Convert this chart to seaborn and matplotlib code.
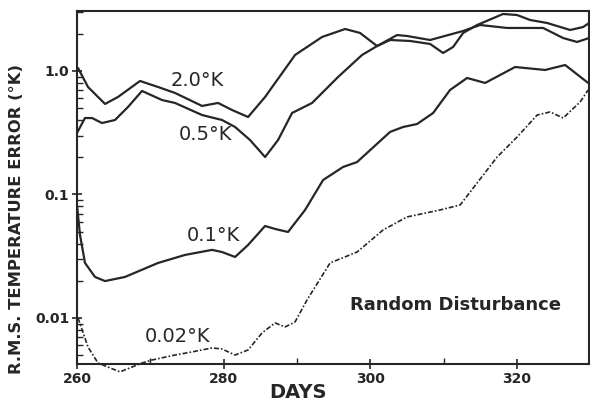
import numpy as np
import pandas as pd
import matplotlib
matplotlib.use("Agg")
import matplotlib.pyplot as plt
from matplotlib.ticker import FixedLocator, MultipleLocator, LogLocator, NullFormatter, FixedFormatter
import seaborn as sns

# ---- data ----
days_20 = [260.14, 261.50, 263.82, 265.59, 268.59, 271.05, 273.36, 277.05, 279.23, 281.14,
           283.32, 285.64, 289.73, 293.41, 296.55, 298.59, 300.91, 302.68, 305.41, 308.14,
           309.91, 311.27, 312.64, 314.55, 318.09, 320.00, 321.77, 324.09, 327.23, 329.00, 329.82]
err_20 = [1.057, 0.742, 0.541, 0.616, 0.830, 0.742, 0.664, 0.521, 0.551, 0.483,
          0.424, 0.616, 1.348, 1.885, 2.188, 2.032, 1.592, 1.782, 1.750, 1.655,
          1.399, 1.564, 2.032, 2.357, 2.895, 2.839, 2.588, 2.447, 2.148, 2.270, 2.447]

days_05 = [260.00, 261.09, 262.05, 263.41, 265.18, 266.95, 268.86, 271.59, 273.36, 277.05,
           279.77, 281.55, 283.59, 285.64, 287.41, 289.32, 292.05, 295.59, 298.86, 300.91,
           303.64, 305.00, 308.14, 312.64, 314.95, 318.64, 323.55, 326.27, 328.18, 329.82]
err_05 = [0.315, 0.416, 0.416, 0.379, 0.401, 0.511, 0.689, 0.582, 0.551, 0.440,
          0.401, 0.352, 0.276, 0.201, 0.276, 0.457, 0.551, 0.894, 1.348, 1.592,
          1.955, 1.920, 1.782, 2.109, 2.357, 2.230, 2.230, 1.849, 1.718, 1.849]

days_01 = [260.00, 260.41, 261.09, 262.45, 263.82, 266.55, 271.05, 274.73, 278.41, 279.77,
           281.55, 283.32, 285.64, 287.00, 288.77, 291.09, 293.55, 296.27, 298.18, 302.68,
           304.45, 306.36, 308.55, 310.86, 313.18, 315.64, 319.73, 323.82, 326.55, 329.68]
err_01 = [0.0822, 0.0470, 0.0279, 0.0215, 0.0199, 0.0215, 0.0279, 0.0324, 0.0356, 0.0342,
          0.0312, 0.0390, 0.0556, 0.0526, 0.0497, 0.0749, 0.131, 0.167, 0.183, 0.321,
          0.352, 0.372, 0.457, 0.702, 0.878, 0.800, 1.077, 1.019, 1.118, 0.800]

days_002 = [260.14, 261.50, 262.86, 265.86, 268.86, 270.23, 273.36, 275.68, 278.41, 279.77,
            281.55, 283.32, 285.23, 287.00, 288.36, 289.73, 291.36, 294.50, 298.18, 301.73,
            305.00, 309.50, 312.23, 314.55, 317.27, 320.00, 322.73, 324.50, 326.27, 328.59, 329.68]
err_002 = [0.0100, 0.00582, 0.00432, 0.00366, 0.00432, 0.00457, 0.00501, 0.00531, 0.00572, 0.00561,
           0.00501, 0.00551, 0.00757, 0.00912, 0.00846, 0.00929, 0.0140, 0.0279, 0.0342, 0.0516,
           0.0658, 0.0749, 0.0822, 0.124, 0.201, 0.292, 0.440, 0.466, 0.416, 0.561, 0.702]

curve_labels = ["2.0°K", "0.5°K", "0.1°K", "0.02°K"]
x_ticks = [260, 280, 300, 320]
y_ticks = [0.01, 0.1, 1.0]
y_ticklabels = ["0.01", "0.1", "1.0"]
annotation = "Random Disturbance"

# ---- drawing ----
sns.set_style("ticks")
plt.rcParams['font.family'] = ['DejaVu Sans']
ink = "#262626"

fig = plt.figure(figsize=(5.9, 4.07), dpi=100)
ax = fig.add_axes([77/590, 43/407, 512/590, 353/407])

series = [(days_20, err_20, "-"), (days_05, err_05, "-"), (days_01, err_01, "-"),
          (days_002, err_002, (0, (3, 1.2, 1, 1.2)))]
for d, e, ls in series:
    df = pd.DataFrame({"day": d, "err": e})
    sns.lineplot(data=df, x="day", y="err", ax=ax, color=ink, linewidth=1.6 if ls == "-" else 1.2,
                 linestyle=ls, sort=False, estimator=None)
for ln in ax.get_lines():
    ln.set_clip_on(False)
    ln.set_solid_joinstyle('round')

ax.set_yscale("log")
ax.set_xlim(260, 329.8)
ax.set_ylim(0.00424, 3.06)

ax.xaxis.set_major_locator(FixedLocator(x_ticks))
ax.xaxis.set_minor_locator(MultipleLocator(10))
ax.yaxis.set_major_locator(FixedLocator(y_ticks))
ax.yaxis.set_major_formatter(FixedFormatter(y_ticklabels))
ax.yaxis.set_minor_locator(LogLocator(base=10, subs=np.arange(2, 10)))
ax.yaxis.set_minor_formatter(NullFormatter())

tick_font = dict(family=['Liberation Sans Narrow', 'DejaVu Sans'], weight='bold', size=10)
ax.set_xticklabels([str(t) for t in x_ticks], **tick_font)
for lab in ax.get_yticklabels():
    lab.set_fontfamily(['Liberation Sans Narrow', 'DejaVu Sans'])
    lab.set_fontweight('bold')
    lab.set_fontsize(10)
    lab.set_color(ink)
for lab in ax.get_xticklabels():
    lab.set_color(ink)

ax.tick_params(axis='both', which='major', direction='inout', length=7, width=1.2, colors=ink, pad=2)
ax.tick_params(axis='both', which='minor', direction='in', length=4, width=1.0, colors=ink)
for sp in ax.spines.values():
    sp.set_visible(True)
    sp.set_linewidth(1.5)
    sp.set_color(ink)

ax.set_xlabel("")
ax.set_ylabel("")

txt = dict(color=ink, fontsize=14, ha='center', va='center', transform=ax.transAxes)
ax.text(0.234, 0.802, curve_labels[0], **txt)
ax.text(0.250, 0.649, curve_labels[1], **txt)
ax.text(0.266, 0.363, curve_labels[2], **txt)
ax.text(0.197, 0.079, curve_labels[3], **txt)
ax.text(0.740, 0.167, annotation, color=ink, fontsize=13, fontweight='bold',
        ha='center', va='center', transform=ax.transAxes)

fig.text(298/590, 1 - 392/407, "DAYS", fontsize=14, fontweight='bold', color=ink,
         ha='center', va='center')
fig.text(17/590, 1 - 219/407, "R.M.S. TEMPERATURE ERROR (°K)", rotation=90,
         family=['Liberation Sans Narrow', 'DejaVu Sans'], fontsize=11.8, fontweight='bold',
         color=ink, ha='center', va='center')

fig.savefig("out.png", dpi=100, facecolor="white")
